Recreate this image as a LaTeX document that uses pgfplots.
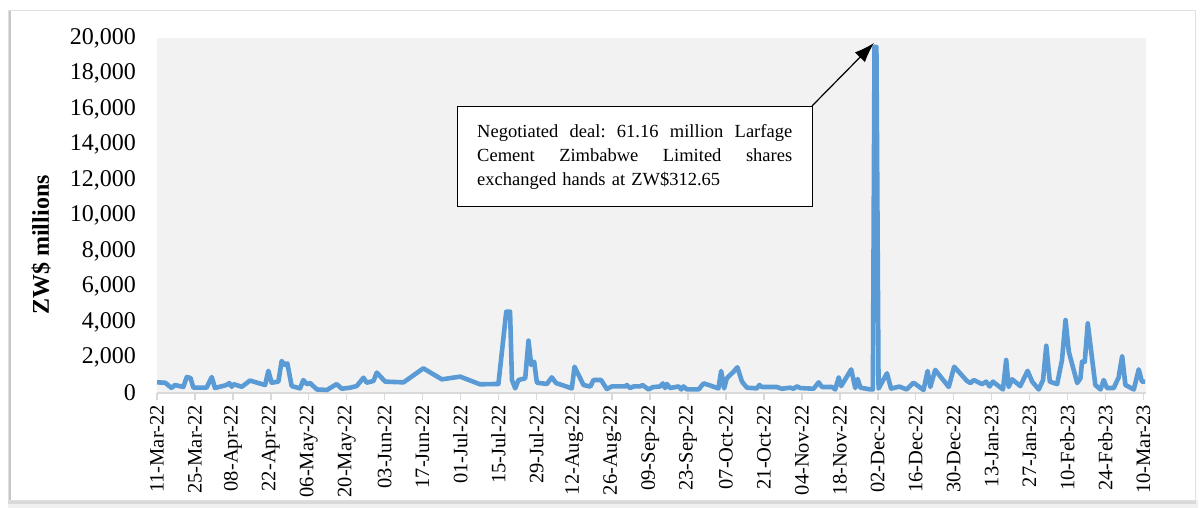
\documentclass[border=0pt]{standalone}
\usepackage{pgfplots}
\pgfplotsset{compat=1.18}
\usepackage{fontspec}
\setmainfont{Liberation Serif}
\usetikzlibrary{arrows.meta}

\definecolor{lineblue}{HTML}{5B9BD5}
\definecolor{plotbg}{HTML}{F2F2F2}
\definecolor{axisgray}{HTML}{D9D9D9}

% Daily traded value (ZW$ millions); x = days since 11-Mar-22
\pgfplotstableread{
day value
0 600
3 580
5.4 280
6.6 450
9.7 340
11 900
12.4 840
13.4 300
18.3 300
20.2 900
21.4 280
25.7 450
26.7 560
27.6 350
28.2 500
31.3 350
34.3 700
39.9 450
41.1 1250
42.3 580
44.8 640
46 1800
47.3 1580
48.1 1670
49.7 390
52.8 260
54 730
55.3 500
56.5 560
59 200
62.7 170
66.3 500
68.2 240
71.3 300
73.7 390
76.2 860
77.4 580
79.9 680
81.1 1150
84.2 640
91 600
98.3 1390
105.1 770
111.9 920
119.2 490
126 510
128.9 4580
130.3 4580
131 730
132.2 260
133.4 730
135.9 830
137.1 2950
138.1 1580
139.2 1760
140.2 580
143.9 510
145.7 880
147.3 560
153.1 260
154.1 1480
157.4 450
159.9 360
161.1 730
163.9 730
166 225
167.9 370
172.8 370
173.4 450
174.6 280
175.9 370
178.3 370
179.2 450
181.4 200
183 330
185.7 370
186.7 540
187.5 280
188.2 510
189.4 280
192.5 370
193.5 200
194.3 370
195.6 200
199.9 200
201.7 540
203.6 450
207.2 260
208.2 1240
209.3 260
210.3 830
212.8 1200
214.2 1450
215.9 640
217.7 300
221.4 260
222.3 450
223.2 340
228.7 340
230.6 240
233.7 300
234.9 240
236.2 370
237.4 280
242.3 240
244.2 600
245.4 340
249.1 340
250.3 200
251.6 880
252.5 390
256.2 1330
257.7 280
258.6 790
259.6 300
263.3 200
264.2 200
264.8 19500
265.5 19500
266.3 250
269.4 1110
270.9 250
274 360
276.7 200
279.2 580
282.9 170
284.4 1240
285.4 340
287.2 1300
292.2 340
294.2 1480
298.9 680
300.2 560
301.4 730
304.5 500
306 640
307.3 370
308.5 640
312.2 200
313.4 1860
314.3 340
315.6 770
318.6 390
321.3 1250
323 640
325.4 200
327 730
328.2 2660
329.5 640
332.2 500
334 1860
335.3 4110
336.5 2330
339.6 560
340.8 830
341.4 1760
342.4 1760
343.5 3920
346.3 450
348.2 200
349.4 730
350.6 280
353.1 280
354.9 880
356.2 2080
357.4 450
360.5 200
362.3 1330
363.5 640
364.7 640
}\tradedata

\begin{document}
\begin{tikzpicture}
\useasboundingbox (0pt,0pt) rectangle (1200pt,508pt);
% outer chart frame with a soft shadow on the left and bottom
\fill[gray!12] (8pt,0pt) rectangle (1198pt,8pt);
\fill[gray!30] (8pt,4pt) rectangle (1196pt,8pt);
\fill[white] (8pt,8pt) rectangle (1195pt,498pt);
\draw[gray!45, line width=2.5pt] (9.5pt,8pt) -- (9.5pt,497pt);
\draw[gray!25, line width=0.8pt] (8pt,8pt) rectangle (1195pt,498pt);

\begin{axis}[
  at={(157pt,115pt)}, anchor=south west,
  scale only axis, width=989pt, height=355pt,
  xmin=0, xmax=365, ymin=0, ymax=20000,
  axis background/.style={fill=plotbg},
  axis x line*=bottom, axis y line*=left,
  x axis line style={draw=axisgray, line width=1.5pt},
  y axis line style={draw=none},
  ytick={0,2000,...,20000},
  ytick style={draw=none},
  xtick={0,14,...,364},
  xticklabels={11-Mar-22,25-Mar-22,08-Apr-22,22-Apr-22,06-May-22,20-May-22,03-Jun-22,17-Jun-22,01-Jul-22,15-Jul-22,29-Jul-22,12-Aug-22,26-Aug-22,09-Sep-22,23-Sep-22,07-Oct-22,21-Oct-22,04-Nov-22,18-Nov-22,02-Dec-22,16-Dec-22,30-Dec-22,13-Jan-23,27-Jan-23,10-Feb-23,24-Feb-23,10-Mar-23},
  xtick style={draw=axisgray, line width=1.5pt},
  tick align=outside, major tick length=7pt,
  xticklabel style={rotate=90, anchor=east, inner sep=0pt, xshift=-5pt, font=\fontsize{20.5}{24}\selectfont},
  yticklabel style={anchor=east, inner sep=0pt, xshift=-14pt, font=\fontsize{24}{28}\selectfont},
  scaled y ticks=false,
  /pgf/number format/1000 sep={,},
  /pgf/number format/assume math mode=true,
  clip=false,
]
\addplot[lineblue, line width=4.6pt, line join=round, no markers] table[x=day, y=value] {\tradedata};
\end{axis}

% y axis title
\node[rotate=90, font=\fontsize{24}{28}\selectfont\bfseries] at (41pt,263pt) {ZW\$ millions};

% annotation box and arrow
\draw[black, line width=0.8pt, fill=white] (457pt,402pt) rectangle (812pt,302pt);
\node[anchor=north west, inner sep=0pt, text width=315pt, font=\fontsize{18.5}{24}\selectfont] at (477pt,384pt)
  {\noindent\makebox[315pt][l]{Negotiated\hfill deal:\hfill 61.16\hfill million\hfill Larfage}\\
   \makebox[315pt][l]{Cement\hfill Zimbabwe\hfill Limited\hfill shares}\\
   exchanged hands at ZW\$312.65};
\draw[black, line width=1.2pt, -{Latex[length=20pt, width=14pt]}] (812pt,402pt) -- (874pt,465pt);
\end{tikzpicture}
\end{document}
